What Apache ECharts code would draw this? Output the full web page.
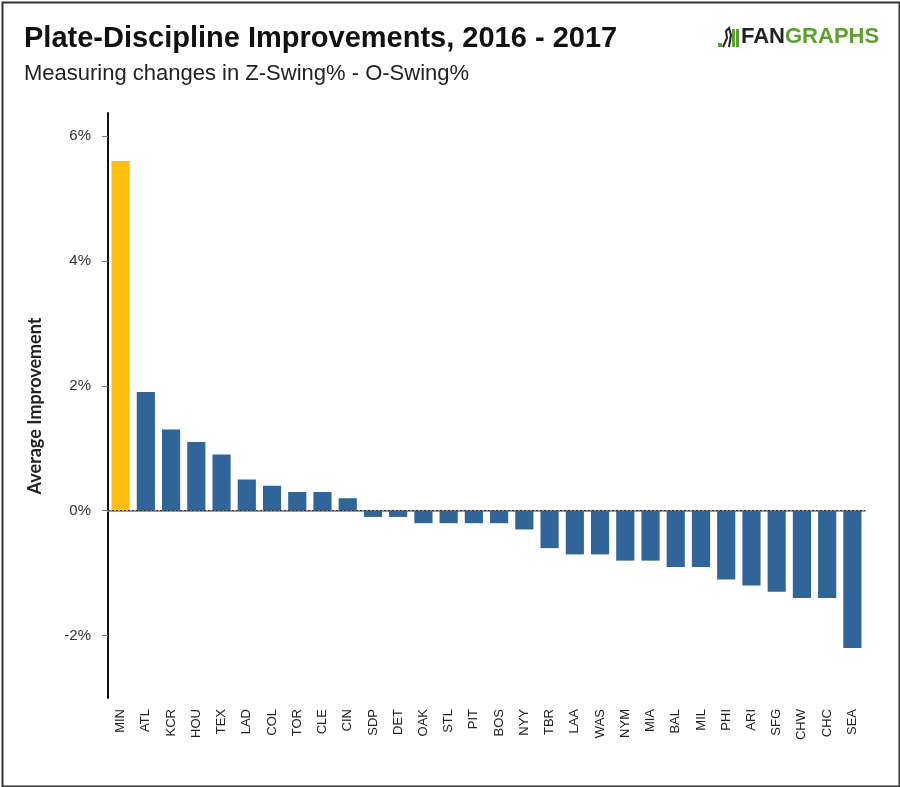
<!DOCTYPE html>
<html>
<head>
<meta charset="utf-8">
<script src="https://cdn.jsdelivr.net/npm/echarts@6/dist/echarts.min.js"></script>
<style>
html,body{margin:0;padding:0;background:#fff;}
#chart{width:900px;height:787px;}
</style>
</head>
<body>
<div id="chart"></div>
<script>
const teams = ['MIN','ATL','KCR','HOU','TEX','LAD','COL','TOR','CLE','CIN','SDP','DET','OAK','STL','PIT','BOS','NYY','TBR','LAA','WAS','NYM','MIA','BAL','MIL','PHI','ARI','SFG','CHW','CHC','SEA'];
const improvement = [5.6,1.9,1.3,1.1,0.9,0.5,0.4,0.3,0.3,0.2,-0.1,-0.1,-0.2,-0.2,-0.2,-0.2,-0.3,-0.6,-0.7,-0.7,-0.8,-0.8,-0.9,-0.9,-1.1,-1.2,-1.3,-1.4,-1.4,-2.2];
const yTicks = [-2,0,2,4,6];
const highlightTeam = 'MIN';

const chart = echarts.init(document.getElementById('chart'));
chart.setOption({
  backgroundColor:'#fff',
  animation:false,
  title:[
    {text:'Plate-Discipline Improvements, 2016 - 2017', left:19, top:19,
     textStyle:{fontFamily:'Liberation Sans', fontWeight:'bold', fontSize:29, color:'#111'}},
    {text:'Measuring changes in Z-Swing% - O-Swing%', left:19, top:58,
     textStyle:{fontFamily:'Liberation Sans', fontWeight:'normal', fontSize:22, color:'#222'}}
  ],
  graphic:[
    {type:'rect', left:0, top:0, shape:{x:1,y:1,width:897,height:784}, style:{fill:'none', stroke:'#333', lineWidth:2}},
    {type:'text', left:741, top:26, style:{text:'{a|FAN}{b|GRAPHS}', rich:{
      a:{fontFamily:'Liberation Sans', fontWeight:'bold', fontSize:22, fill:'#222'},
      b:{fontFamily:'Liberation Sans', fontWeight:'bold', fontSize:22, fill:'#5ca12f'}}}},
    {type:'rect', shape:{x:718,y:43,width:4,height:4}, style:{fill:'#5ca12f'}},
    {type:'rect', shape:{x:732,y:29,width:3,height:18}, style:{fill:'#5ca12f'}},
    {type:'rect', shape:{x:736,y:29,width:3,height:18}, style:{fill:'#5ca12f'}},
    {type:'polyline', shape:{points:[[723,47],[727,38],[726,31],[729,28],[731,35],[729,47]]}, style:{fill:'none', stroke:'#222', lineWidth:2}},
    {type:'text', x:35, y:406, rotation:Math.PI/2,
     style:{text:'Average Improvement', align:'center', verticalAlign:'middle',
       fontFamily:'Lato', fontWeight:'bold', fontSize:18, fill:'#222'}}
  ],
  grid:{left:108, right:35, top:113, bottom:89},
  xAxis:{
    type:'category', data:teams,
    axisLine:{lineStyle:{color:'#999', width:2}},
    axisTick:{show:false},
    axisLabel:{rotate:90, interval:0, margin:11, fontFamily:'Liberation Sans', fontSize:13, color:'#222'}
  },
  yAxis:{
    type:'value', min:-3, max:6.37,
    axisLine:{show:true, onZero:false, lineStyle:{color:'#111', width:2}},
    axisTick:{show:true, length:6, customValues:yTicks, lineStyle:{color:'#777'}},
    axisLabel:{customValues:yTicks, formatter:v=>v+'%', margin:17, fontFamily:'Liberation Sans', fontSize:15, color:'#333'},
    splitLine:{show:false}
  },
  series:[{
    type:'bar', barCategoryGap:'28%',
    data:improvement.map((v,i)=>({value:v, itemStyle:{color: teams[i]===highlightTeam ? '#fdc010' : '#31659a'}})),
    markLine:{silent:true, symbol:'none', label:{show:false},
      lineStyle:{color:'#333', type:[2,2], width:1}, data:[{yAxis:0}]}
  }]
});
</script>
</body>
</html>
